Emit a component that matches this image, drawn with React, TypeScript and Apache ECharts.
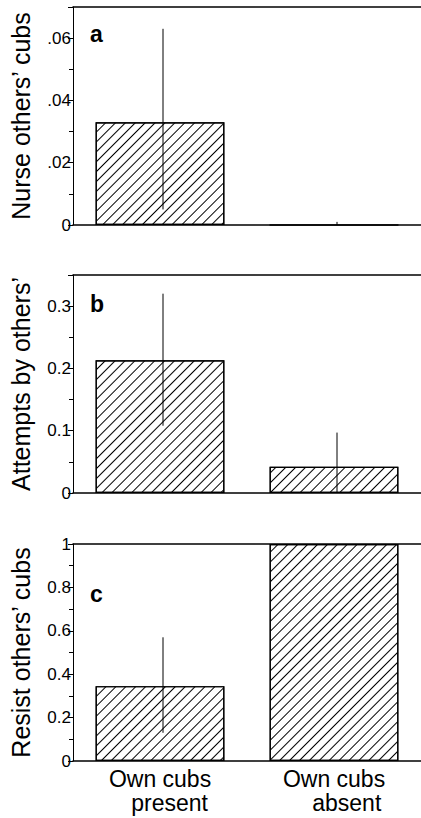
import React, { useEffect, useRef } from 'react';
import * as echarts from 'echarts';

const categories = ['Own cubs\n   present', 'Own cubs\n    absent'];
const nurseMean = [0.033, 0];
const nurseErr = [[0.005, 0.063], [0, 0.001]];
const attemptMean = [0.213, 0.042];
const attemptErr = [[0.108, 0.32], [0, 0.097]];
const resistMean = [0.345, 1.0];
const resistErr = [[0.13, 0.57], [1.0, 1.0]];
const panelNames = ['Nurse others\u2019 cubs', 'Attempts by others\u2019', 'Resist others\u2019 cubs'];
const panelLetters = ['a', 'b', 'c'];

const FONT = 'Liberation Sans, Arial, sans-serif';

const App: React.FC = () => {
  const chartRef = useRef<HTMLDivElement>(null);

  useEffect(() => {
    if (!chartRef.current) return;
    const chart = echarts.init(chartRef.current, undefined, { renderer: 'svg' });

    const grids = [
      { left: 66, width: 355, top: 7, height: 218 },
      { left: 66, width: 355, top: 275, height: 218 },
      { left: 66, width: 355, top: 544, height: 217 },
    ];
    const yCfg = [
      { max: 0.07, interval: 0.02, showMax: false, fmt: (v: number) => (v === 0 ? '0' : String(+v.toFixed(2)).replace(/^0\./, '.')) },
      { max: 0.35, interval: 0.1, showMax: false, fmt: (v: number) => (v === 0 ? '0' : String(+v.toFixed(1))) },
      { max: 1, interval: 0.2, showMax: true, fmt: (v: number) => (v === 0 ? '0' : String(+v.toFixed(1))) },
    ];
    const means = [nurseMean, attemptMean, resistMean];
    const errs = [nurseErr, attemptErr, resistErr];

    const decal = {
      symbol: 'rect',
      symbolSize: 1,
      dashArrayX: [1, 0],
      dashArrayY: [1, 6],
      rotation: -Math.PI / 4,
      color: '#000',
      backgroundColor: '#fff',
    };

    const xAxis: any[] = [];
    const yAxis: any[] = [];
    const series: any[] = [];
    grids.forEach((_, i) => {
      xAxis.push({
        type: 'category',
        gridIndex: i,
        data: categories,
        axisLine: { lineStyle: { color: '#000', width: 1.5 } },
        axisTick: { show: false },
        axisLabel: {
          show: i === 2,
          color: '#000',
          fontFamily: FONT,
          fontSize: 23,
          lineHeight: 24,
          margin: 6,
        },
      });
      xAxis.push({
        type: 'category',
        gridIndex: i,
        position: 'top',
        data: categories,
        axisLine: { lineStyle: { color: '#000', width: 1.5 } },
        axisTick: { show: false },
        axisLabel: { show: false },
      });
      yAxis.push({
        type: 'value',
        gridIndex: i,
        min: 0,
        max: yCfg[i].max,
        interval: yCfg[i].interval,
        name: panelNames[i],
        nameLocation: 'middle',
        nameGap: 40,
        nameTextStyle: { color: '#000', fontFamily: FONT, fontSize: 25 },
        axisLine: { show: true, lineStyle: { color: '#000', width: 1 } },
        axisTick: { show: true, length: 5, lineStyle: { color: '#000' } },
        minorTick: { show: true, splitNumber: 2, length: 4, lineStyle: { color: '#000' } },
        splitLine: { show: false },
        axisLabel: {
          color: '#000',
          fontFamily: FONT,
          fontSize: 17,
          margin: 2,
          showMaxLabel: yCfg[i].showMax,
          formatter: yCfg[i].fmt,
        },
      });
      series.push({
        type: 'bar',
        xAxisIndex: i * 2,
        yAxisIndex: i,
        data: means[i],
        barWidth: '74%',
        itemStyle: { color: '#fff', borderColor: '#000', borderWidth: 1.2, decal },
      });
      series.push({
        type: 'custom',
        xAxisIndex: i * 2,
        yAxisIndex: i,
        data: errs[i].map((e, j) => [j, e[0], e[1]]),
        renderItem: (_p: any, api: any) => {
          const lo = api.coord([api.value(0), api.value(1)]);
          const hi = api.coord([api.value(0), api.value(2)]);
          return {
            type: 'line',
            shape: { x1: lo[0] + 3, y1: lo[1], x2: hi[0] + 3, y2: hi[1] },
            style: { stroke: '#000', lineWidth: 1 },
          };
        },
        z: 5,
      });
    });

    chart.setOption({
      animation: false,
      aria: { decal: { show: true } },
      grid: grids,
      xAxis,
      yAxis,
      series,
      graphic: panelLetters.map((t, i) => ({
        type: 'text',
        left: 90,
        top: [22, 292, 582][i],
        style: { text: t, font: `bold 23px ${FONT}`, fill: '#000' },
      })),
    });

    return () => chart.dispose();
  }, []);

  return (
    <div
      ref={chartRef}
      style={{ position: 'fixed', left: 0, top: 0, width: 421, height: 818, background: '#fff' }}
    />
  );
};

export default App;
